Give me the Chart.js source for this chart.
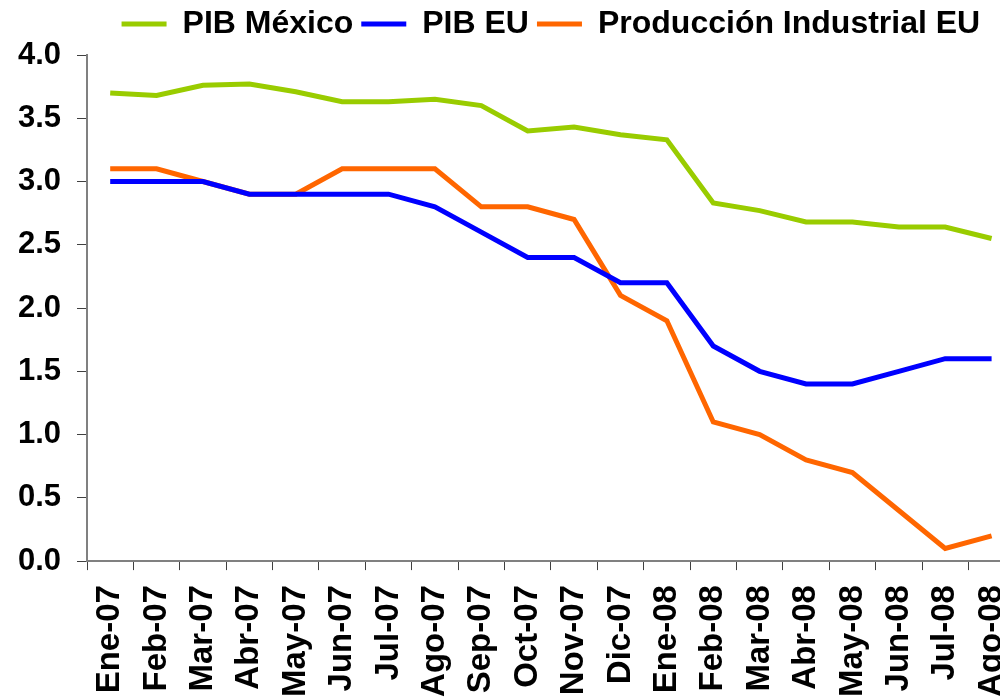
<!DOCTYPE html>
<html>
<head>
<meta charset="utf-8">
<script src="https://cdn.jsdelivr.net/npm/chart.js@4.4.1/dist/chart.umd.min.js"></script>
<style>
  html, body { margin: 0; padding: 0; background: #fff; overflow: hidden; }
  canvas { display: block; }
</style>
</head>
<body>
<canvas id="chart" width="1047" height="712"></canvas>
<script>
const months = ['Ene-07', 'Feb-07', 'Mar-07', 'Abr-07', 'May-07', 'Jun-07', 'Jul-07', 'Ago-07', 'Sep-07', 'Oct-07',
                'Nov-07', 'Dic-07', 'Ene-08', 'Feb-08', 'Mar-08', 'Abr-08', 'May-08', 'Jun-08', 'Jul-08', 'Ago-08'];
const pibMexico = [3.70, 3.68, 3.76, 3.77, 3.71, 3.63, 3.63, 3.65, 3.60, 3.40,
                   3.43, 3.37, 3.33, 2.83, 2.77, 2.68, 2.68, 2.64, 2.64, 2.55];
const pibEU = [3.0, 3.0, 3.0, 2.9, 2.9, 2.9, 2.9, 2.8, 2.6, 2.4,
               2.4, 2.2, 2.2, 1.7, 1.5, 1.4, 1.4, 1.5, 1.6, 1.6];
const prodIndustrialEU = [3.1, 3.1, 3.0, 2.9, 2.9, 3.1, 3.1, 3.1, 2.8, 2.8,
                          2.7, 2.1, 1.9, 1.1, 1.0, 0.8, 0.7, 0.4, 0.1, 0.2];

const font = 'Liberation Sans, Arial, sans-serif';

const makeSeries = (label, data, color) => ({
    label: label,
    data: data,
    borderColor: color,
    backgroundColor: color,
    borderWidth: 5,
    pointRadius: 0,
    pointStyle: 'line',
    fill: false,
    tension: 0
});

// a bit of extra room between the legend and the plot
const legendGap = {
    id: 'legendGap',
    beforeInit(chart) {
        const fit = chart.legend.fit.bind(chart.legend);
        chart.legend.fit = function () {
            fit();
            this.height += 5;
        };
    }
};

new Chart(document.getElementById('chart'), {
    type: 'line',
    data: {
        labels: months,
        datasets: [
            makeSeries('PIB México', pibMexico, '#99CC00'),
            makeSeries('PIB EU', pibEU, '#0000FF'),
            makeSeries('Producción Industrial EU', prodIndustrialEU, '#FF6600')
        ]
    },
    plugins: [legendGap],
    options: {
        responsive: false,
        animation: false,
        plugins: {
            legend: {
                position: 'top',
                fullSize: false,
                labels: {
                    usePointStyle: true,
                    pointStyleWidth: 45,
                    boxHeight: 6,
                    padding: 8,
                    color: '#000',
                    font: { family: font, size: 32, weight: 'bold' }
                }
            },
            tooltip: { enabled: false }
        },
        scales: {
            x: {
                offset: true,
                grid: { offset: true, drawOnChartArea: false, tickLength: 9, color: '#404040', lineWidth: 1 },
                border: { color: '#808080', width: 2 },
                ticks: {
                    autoSkip: false,
                    minRotation: 90,
                    maxRotation: 90,
                    padding: 15,
                    color: '#000',
                    font: { family: font, size: 33, weight: 'bold' }
                }
            },
            y: {
                min: 0,
                max: 4,
                afterFit: scale => { scale.width = 87; },
                grid: { drawOnChartArea: false, tickLength: 10, color: '#404040', lineWidth: 1 },
                border: { color: '#808080', width: 2 },
                ticks: {
                    stepSize: 0.5,
                    padding: 16,
                    color: '#000',
                    font: { family: font, size: 31, weight: 'bold' },
                    callback: v => v.toFixed(1)
                }
            }
        }
    }
});
</script>
</body>
</html>
